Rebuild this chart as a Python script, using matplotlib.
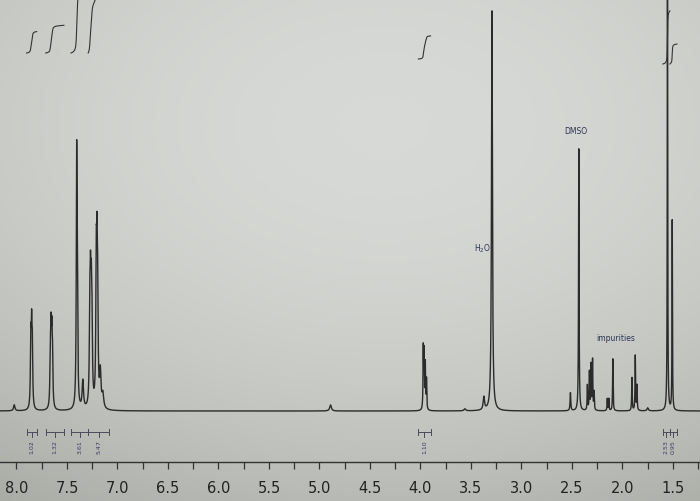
import numpy as np
import matplotlib
matplotlib.use('Agg')
import matplotlib.pyplot as plt
from matplotlib.ticker import MultipleLocator, FormatStrFormatter
from matplotlib.colors import LinearSegmentedColormap

## peak list: shift (ppm), height (px above baseline), half width (ppm)
peak_ppm = [8.022, 7.858, 7.850, 7.843, 7.665, 7.658, 7.650, 7.643,
            7.404, 7.397, 7.343, 7.274, 7.267, 7.259, 7.252,
            7.210, 7.203, 7.196, 7.170, 7.145,
            4.890, 3.972, 3.964, 3.952, 3.940, 3.560, 3.372, 3.292,
            2.515, 2.432, 2.347, 2.327, 2.311, 2.296, 2.281,
            2.150, 2.135, 2.095, 1.906, 1.873, 1.856, 1.750, 1.554, 1.507]
peak_height = [6, 66, 70, 55, 48, 66, 62, 45,
               240, 100, 28, 85, 97, 90, 68,
               125, 120, 95, 35, 14,
               6, 60, 55, 45, 30, 2, 13, 400,
               18, 262, 25, 38, 45, 50, 18,
               12, 12, 52, 33, 55, 25, 3, 480, 190]
peak_width = [0.008, 0.0045, 0.0045, 0.0045, 0.0045, 0.0045, 0.0045, 0.0045,
              0.0045, 0.0045, 0.008, 0.005, 0.005, 0.005, 0.005,
              0.005, 0.005, 0.005, 0.008, 0.010,
              0.010, 0.003, 0.003, 0.003, 0.003, 0.010, 0.008, 0.0055,
              0.004, 0.003, 0.003, 0.003, 0.003, 0.003, 0.003,
              0.003, 0.003, 0.003, 0.003, 0.003, 0.003, 0.008, 0.0025, 0.0025]

## integration regions (ppm from, ppm to) and the printed values
integ_from = [7.90, 7.71, 7.46, 7.29, 4.02, 1.60, 1.53]
integ_to = [7.80, 7.53, 7.29, 7.08, 3.90, 1.53, 1.46]
integ_value = [1.02, 1.32, 3.61, 5.47, 1.10, 2.53, 0.95]

## solvent / impurity labels
label_text = ['H$_2$O', 'DMSO', 'impurities']
label_ppm = [3.39, 2.46, 2.07]
label_y = [163, 280, 73]

## build the spectrum from the peak list (Lorentzian lines)
ppm = np.linspace(8.2, 1.2, 60000)
spec = np.zeros_like(ppm)
for c, h, w in zip(peak_ppm, peak_height, peak_width):
    spec += h * w**2 / ((ppm - c)**2 + w**2)

fig = plt.figure(figsize=(7, 5.02), dpi=100)

## photo-like grey background
bg = fig.add_axes([0, 0, 1, 1], zorder=-1)
yy, xx = np.mgrid[0:1:200j, 0:1:280j]
shade = np.clip(1 - 0.9 * ((xx - 0.55)**2 + 1.2 * (yy - 0.25)**2), 0, 1)
cmap = LinearSegmentedColormap.from_list('scr', ['#a3a69f', '#d7d9d6'])
bg.imshow(shade, cmap=cmap, aspect='auto', extent=[0, 1, 1, 0], vmin=0, vmax=1)
bg.axis('off')

ax = fig.add_axes([0, 39 / 502, 1, 463 / 502])
ax.set_facecolor('none')
ax.plot(ppm, spec, color='#2b2b2b', lw=1.0)
ax.set_xlim(8.163, 1.232)
ax.set_ylim(-51, 412)

## integral curves + brackets + values
for i, (a, b, v) in enumerate(zip(integ_from, integ_to, integ_value)):
    m = (ppm <= a) & (ppm >= b)
    cum = np.cumsum(spec[m])
    cum = cum / cum[-1] * v * 21
    base = 358 if a > 5 else (352 if a > 2 else 347)
    ax.plot(ppm[m], base + cum, color='#333333', lw=0.8)
    ax.plot([a, b], [-21, -21], color='#4a4a5a', lw=0.7)
    ax.plot([a, a], [-18, -24], color='#4a4a5a', lw=0.7)
    ax.plot([b, b], [-18, -24], color='#4a4a5a', lw=0.7)
    mid = (a + b) / 2
    ax.plot([mid, mid], [-21, -26], color='#4a4a5a', lw=0.7)
    ax.text(mid, -28, '%.2f' % v, rotation=90, ha='center', va='top',
            fontsize=4.5, color='#3c3c66')

for t, x, y in zip(label_text, label_ppm, label_y):
    ax.text(x, y, t, ha='center', va='center', fontsize=5.5, color='#2e3350')

for s in ['left', 'right', 'top']:
    ax.spines[s].set_visible(False)
ax.spines['bottom'].set_color('#333333')
ax.spines['bottom'].set_linewidth(1.0)
ax.set_yticks([])
ax.xaxis.set_major_locator(MultipleLocator(0.5))
ax.xaxis.set_minor_locator(MultipleLocator(0.25))
ax.xaxis.set_major_formatter(FormatStrFormatter('%.1f'))
ax.tick_params(axis='x', which='both', direction='out', length=5, width=0.9,
               color='#333333', labelsize=10.5, labelcolor='#222222', pad=8)

plt.savefig('out.png', dpi=100)
